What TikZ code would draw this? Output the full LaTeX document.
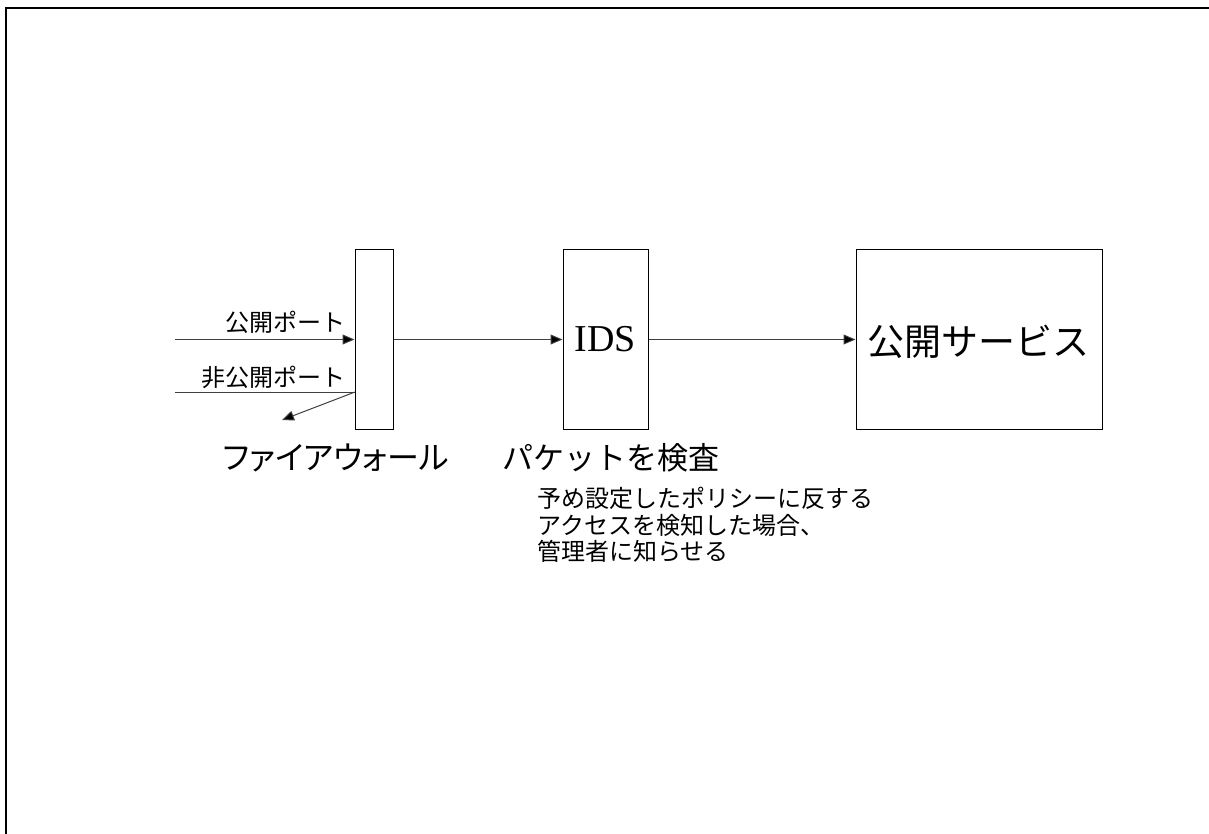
\documentclass[tikz,border=0pt]{standalone}
\usepackage{fontspec}
\setmainfont{Liberation Serif}
\newfontfamily\jp{Noto Sans CJK JP}
\newfontfamily\jpp[RawFeature=+palt]{Noto Sans CJK JP}
\usetikzlibrary{arrows.meta}
\begin{document}
\begin{tikzpicture}[x=1pt,y=-1pt,
  box/.style={draw=black,line width=1pt,minimum height=179pt,inner sep=0pt},
  arr/.style={draw=black!75,line width=1pt,-{Triangle[length=12pt,width=10pt,fill=black]}},
  plain/.style={draw=black!75,line width=1pt},
  small/.style={font=\jp\fontsize{24}{26.5}\selectfont,inner sep=0pt},
  big/.style={font=\jp\fontsize{31}{40}\selectfont,inner sep=0pt}]
\useasboundingbox (0,0) rectangle (1209,834);
\draw[line width=2pt] (6,834) -- (6,8) -- (1209,8);
% boxes
\node[box,minimum width=38pt] (fw) at (374,339.5) {};
\node[box,minimum width=85pt,font=\fontsize{38}{44}\selectfont] (ids) at (605.5,339.5) {IDS};
\node[box,minimum width=246pt] (svc) at (979,339.5) {};
\node[big,font=\jp\fontsize{37}{44}\selectfont] (svct) at (978,342) {公開サービス};
% inputs
\coordinate (in1) at (175,339.5);
\coordinate (in2) at (175,392);
\coordinate (rej) at (355,392);
\coordinate (out) at (282,420);
\draw[arr] (in1) -- (fw.west);
\draw[plain] (in2) -- (rej);
\draw[arr] (rej) -- (out);
\draw[arr] (fw.east) -- (ids.west);
\draw[arr] (ids.east) -- (svc.west);
% labels
\node[small,anchor=east] (l1) at (346,322) {公開ポート};
\node[small,anchor=east] (l2) at (346,377) {非公開ポート};
\node[big,font=\jpp\fontsize{32}{40}\selectfont] (fwl) at (336,458) {ファイアウォール};
\node[big,anchor=west] (idsl) at (502,458) {パケットを検査};
\node[small,anchor=north west,align=left] (note) at (537,487) {予め設定したポリシーに反する\\アクセスを検知した場合、\\管理者に知らせる};
\end{tikzpicture}
\end{document}
